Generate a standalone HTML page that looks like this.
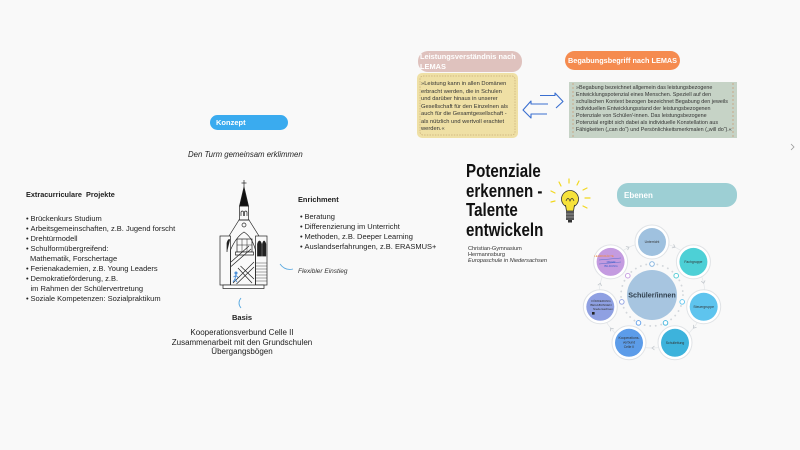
<!DOCTYPE html>
<html><head><meta charset="utf-8">
<style>
body{margin:0;width:800px;height:450px;background:#f9f9f9;position:relative;overflow:hidden;font-family:"Liberation Sans",sans-serif;color:#222}
.a{position:absolute;white-space:nowrap}
.b{display:inline-block;width:4.5px}
svg{position:absolute;left:0;top:0}
</style></head><body>
<svg width="800" height="450" viewBox="0 0 800 450">
  <!-- pills & boxes -->
  <rect x="418" y="51" width="104" height="21" rx="10" fill="#dfc2be"/>
  <rect x="417" y="73" width="101" height="65" rx="5" fill="#efe0a5"/>
  <rect x="420" y="76" width="95" height="59" rx="3" fill="none" stroke="#c8ad78" stroke-width="0.7" stroke-dasharray="1.5 1.2"/>
  <rect x="565" y="51" width="115" height="19" rx="9.5" fill="#f58b4f"/>
  <rect x="569" y="82" width="168" height="56" fill="#c6d3c6"/>
  <line x1="573" y1="83" x2="573" y2="137" stroke="#c9a07a" stroke-width="0.8" stroke-dasharray="2 2"/>
  <line x1="733" y1="83" x2="733" y2="137" stroke="#c9a07a" stroke-width="0.8" stroke-dasharray="2 2"/>
  <rect x="210" y="115" width="78" height="15" rx="7.5" fill="#3aabef"/>
  <rect x="617" y="183" width="120" height="24" rx="11" fill="#9dcfd4"/>
  <!-- double arrow -->
  <g fill="none" stroke="#3a6fd0" stroke-width="1.1" stroke-linejoin="round">
    <path d="M540 95.5 H555 V93 L563 101.5 L556 108"/>
    <path d="M548 104 H531 V101 L523 110 L531 118 V114 H547"/>
  </g>
  <!-- right chevron -->
  <polyline points="791,144 794,147 791,150" fill="none" stroke="#999" stroke-width="0.8"/>
  <!-- blue curves -->
  <path d="M280 264 Q285 271 293 269" fill="none" stroke="#5aa9e0" stroke-width="0.9"/>
  <path d="M241 298 Q237 303 241 308" fill="none" stroke="#5aa9e0" stroke-width="0.9"/>
  <!-- church -->
  <g stroke="#222" stroke-width="0.7" fill="none">
    <line x1="244" y1="180" x2="244" y2="188"/>
    <line x1="241.5" y1="183" x2="246.5" y2="183"/>
    <polygon points="244,187 239.5,206 248.5,206" fill="#111"/>
    <rect x="239.5" y="206" width="9" height="14"/>
    <path d="M241 216 v-4 q1.3-2 2.6 0 v4 M244.4 216 v-4 q1.3-2 2.6 0 v4"/>
    <line x1="238.5" y1="220" x2="249.5" y2="220"/>
    <circle cx="244" cy="225" r="2"/>
    <path d="M239 220 L229 236 M249 220 L259 236"/>
    <rect x="220" y="236" width="10.5" height="49"/>
    <path d="M227 252 V243 Q228.5 238 230 240" fill="#222"/>
    <rect x="255.5" y="236" width="11.5" height="49"/>
    <path d="M257.5 256 V244 Q259.5 238 261.5 244 V256 Z M262.5 256 V244 Q264 238 265.8 244 V256 Z" fill="#222"/>
    <path d="M255.5 263 H267 M255.5 266 H267 M255.5 269 H267 M255.5 272 H267 M255.5 275 H267 M255.5 278 H267 M255.5 281 H267" stroke-width="0.4"/>
    <path d="M230.5 285 V250 Q236 237 244 232 Q252 237 255.5 250 V285"/>
    <rect x="237" y="239" width="15" height="13"/>
    <path d="M242 239 V252 M247 239 V252 M237 245 H252" stroke-width="0.5"/>
    <path d="M235.5 252 H253.5 V255 H235.5 Z" fill="#fff"/>
    <path d="M231 262 L249 246 M231 266.5 L251 249"/>
    <path d="M233 283 L254 262 M236.5 284 L254 267"/>
    <path d="M238 268 L252 283 M240.5 266 L254 279"/>
    <rect x="223" y="285" width="41" height="3.5" fill="#fff"/>
  </g>
  <g stroke="#4b8fd8" stroke-width="0.9" fill="none">
    <circle cx="236" cy="273" r="1.1" fill="#4b8fd8"/>
    <path d="M236 274.5 L235 279 L233 282 M235 279 L237 282 M233.5 277 L236 275.5 L238 277.5"/>
  </g>
  <!-- lightbulb -->
  <g stroke="#f2d81f" stroke-width="1.2" stroke-linecap="round">
    <line x1="555" y1="193" x2="551" y2="191"/>
    <line x1="561" y1="186" x2="559" y2="182"/>
    <line x1="569" y1="183" x2="569" y2="179"/>
    <line x1="577" y1="185" x2="579" y2="181"/>
    <line x1="583" y1="190" x2="587" y2="188"/>
    <line x1="585" y1="198" x2="590" y2="198"/>
    <line x1="583" y1="206" x2="587" y2="208"/>
    <line x1="555" y1="201" x2="551" y2="202"/>
  </g>
  <circle cx="570" cy="199" r="8.5" fill="#f6e23b" stroke="#333" stroke-width="0.8"/>
  <path d="M566 201 q2 -5 4 0 q2 -5 4 0" fill="none" stroke="#333" stroke-width="0.7"/>
  <path d="M565.5 205 L566.5 211 H573.5 L574.5 205" fill="#f6e23b" stroke="#333" stroke-width="0.8"/>
  <rect x="566" y="211" width="8" height="9" fill="#555"/>
  <path d="M566 214 H574 M566 217 H574" stroke="#ccc" stroke-width="0.6"/>
  <rect x="568" y="220" width="4" height="2.5" fill="#333"/>
  <!-- diagram -->
  <circle cx="652" cy="295" r="53" fill="none" stroke="#e3e6e9" stroke-width="0.7"/>
  <circle cx="652" cy="295" r="31" fill="none" stroke="#d3d7db" stroke-width="1.8" stroke-linecap="round" stroke-dasharray="0.1 5.5"/>
  <circle cx="652" cy="295" r="25" fill="#a7c5e0"/>
  <g fill="none" stroke="#c3c8cd" stroke-width="0.8">
    <path d="M673.6 244.3 L675 247.2 L671.9 247.9"/>
    <path d="M705.1 280.4 L703.7 283.2 L701.2 281.2"/>
    <path d="M696.5 327.4 L693.4 328.1 L693.4 324.9"/>
    <path d="M654.5 350 L652 348 L654.5 346"/>
    <path d="M610.6 331.3 L610.6 328.1 L613.8 328.9"/>
    <path d="M597.8 285.2 L600.3 283.2 L601.6 286"/>
    <path d="M625.9 246.5 L629 247.2 L627.6 250.1"/>
  </g>
  <g stroke-width="0.9" fill="#fff">
    <circle cx="652" cy="264" r="2.3" stroke="#7fb0de"/>
    <circle cx="676.2" cy="275.7" r="2.3" stroke="#4dc9d3"/>
    <circle cx="682.2" cy="301.9" r="2.3" stroke="#5ec4ee"/>
    <circle cx="665.5" cy="322.9" r="2.3" stroke="#3db3dc"/>
    <circle cx="638.5" cy="322.9" r="2.3" stroke="#5c9ce9"/>
    <circle cx="621.8" cy="301.9" r="2.3" stroke="#8fa0e2"/>
    <circle cx="627.8" cy="275.7" r="2.3" stroke="#c49be0"/>
  </g>
  <g fill="#fff" stroke="#e0e3e6" stroke-width="1">
    <circle cx="652" cy="242" r="17"/>
    <circle cx="693.4" cy="261.9" r="17"/>
    <circle cx="703.7" cy="306.8" r="17"/>
    <circle cx="675" cy="342.8" r="17"/>
    <circle cx="629" cy="342.8" r="17"/>
    <circle cx="600.3" cy="306.8" r="17"/>
    <circle cx="610.6" cy="261.9" r="17"/>
  </g>
  <circle cx="652" cy="242" r="14" fill="#9fc1df"/>
  <circle cx="693.4" cy="261.9" r="14" fill="#4dd0d6"/>
  <circle cx="703.7" cy="306.8" r="14" fill="#5ec4ee"/>
  <circle cx="675" cy="342.8" r="14" fill="#3db3dc"/>
  <circle cx="629" cy="342.8" r="14" fill="#5c9ce9"/>
  <circle cx="600.3" cy="306.8" r="14" fill="#8fa0e2"/>
  <circle cx="610.6" cy="261.9" r="14" fill="#c49be0"/>
  <g font-family="Liberation Sans, sans-serif" font-size="3.4" fill="#333" text-anchor="middle">
    <text x="652" y="243.2">Unterricht</text>
    <text x="693.4" y="263.1">Fachgruppe</text>
    <text x="703.7" y="308">Steuergruppe</text>
    <text x="675" y="344">Schulleitung</text>
    <text x="629" y="339">Kooperations-</text>
    <text x="629" y="343.5">verbund</text>
    <text x="629" y="348">Celle II</text>
    <text x="601" y="302" font-size="3">FÖRDERUNG</text>
    <text x="601" y="306" font-size="3">BEGABUNGEN</text>
    <text x="603" y="310" font-size="3">Niedersachsen</text>
    <text x="604" y="257" font-size="3" fill="#f08a3c">LEHRKRÄFTE</text>
    <text x="611" y="263" font-size="3" fill="#3a5fc8">MEHR</text>
    <text x="611" y="267" font-size="3" fill="#3a5fc8">BILDUNG</text>
    <text x="652" y="297.5" font-size="7.2" font-weight="bold" fill="#2f3e4c">Schüler/innen</text>
  </g>
  <rect x="592" y="312" width="2.6" height="2.6" fill="#222"/>
  <path d="M599 260 L621 258 M599 264 L621 262" stroke="#3a5fc8" stroke-width="0.4"/>
</svg>

<!-- top texts -->
<div class="a" style="left:420px;top:51.5px;font-weight:bold;font-size:7.4px;line-height:10px;color:#fff">Leistungsverständnis nach<br>LEMAS</div>
<div class="a" style="left:421px;top:81.2px;font-size:5.75px;line-height:7.5px;color:#333">»Leistung kann in allen Domänen<br>erbracht werden, die in Schulen<br>und darüber hinaus in unserer<br>Gesellschaft für den Einzelnen als<br>auch für die Gesamtgesellschaft -<br>als nützlich und wertvoll erachtet<br>werden.«</div>
<div class="a" style="left:568px;top:56px;font-weight:bold;font-size:7.3px;line-height:10px;color:#fff">Begabungsbegriff nach LEMAS</div>
<div class="a" style="left:576px;top:84.7px;font-size:5.4px;line-height:7.1px;color:#333">»Begabung bezeichnet allgemein das leistungsbezogene<br>Entwicklungspotenzial eines Menschen. Speziell auf den<br>schulischen Kontext bezogen bezeichnet Begabung den jeweils<br>individuellen Entwicklungsstand der leistungsbezogenen<br>Potenziale von Schüler/-innen. Das leistungsbezogene<br>Potenzial ergibt sich dabei als individuelle Konstellation aus<br>Fähigkeiten („can do“) und Persönlichkeitsmerkmalen („will do“).«</div>

<div class="a" style="left:216px;top:117.5px;font-weight:bold;font-size:7.5px;line-height:10px;color:#fff">Konzept</div>
<div class="a" style="left:188px;top:150px;font-style:italic;font-size:7.8px;line-height:10px">Den Turm gemeinsam erklimmen</div>

<!-- left column -->
<div class="a" style="left:26px;top:190px;font-weight:bold;font-size:7.3px;line-height:10px">Extracurriculare&nbsp; Projekte</div>
<div class="a" style="left:26px;top:214px;font-size:7.5px;line-height:10px">
<div><span class="b">•</span>Brückenkurs Studium</div>
<div><span class="b">•</span>Arbeitsgemeinschaften, z.B. Jugend forscht</div>
<div><span class="b">•</span>Drehtürmodell</div>
<div><span class="b">•</span>Schulformübergreifend:</div>
<div style="padding-left:4px">Mathematik, Forschertage</div>
<div><span class="b">•</span>Ferienakademien, z.B. Young Leaders</div>
<div><span class="b">•</span>Demokratieförderung, z.B.</div>
<div style="padding-left:4.5px">im Rahmen der Schülervertretung</div>
<div><span class="b">•</span>Soziale Kompetenzen: Sozialpraktikum</div>
</div>

<!-- enrichment -->
<div class="a" style="left:298px;top:195px;font-weight:bold;font-size:7.4px;line-height:10px">Enrichment</div>
<div class="a" style="left:300px;top:212px;font-size:7.5px;line-height:10px">
<div><span class="b">•</span>Beratung</div>
<div><span class="b">•</span>Differenzierung im Unterricht</div>
<div><span class="b">•</span>Methoden, z.B. Deeper Learning</div>
<div><span class="b">•</span>Auslandserfahrungen, z.B. ERASMUS+</div>
</div>
<div class="a" style="left:298px;top:266.5px;font-style:italic;font-size:6.5px;line-height:9px;color:#333">Flexibler Einstieg</div>

<!-- basis -->
<div class="a" style="left:142px;top:313px;width:200px;text-align:center;font-weight:bold;font-size:7.5px;line-height:10px">Basis</div>
<div class="a" style="left:142px;top:328.3px;width:200px;text-align:center;font-size:8px;line-height:9.5px">Kooperationsverbund Celle II<br>Zusammenarbeit mit den Grundschulen<br>Übergangsbögen</div>

<!-- title -->
<div class="a" style="left:466px;top:162px;font-weight:bold;font-size:18px;line-height:19.7px;color:#111;transform:scaleX(0.84);transform-origin:0 0">Potenziale<br>erkennen -<br>Talente<br>entwickeln</div>
<div class="a" style="left:468px;top:246px;font-size:5.6px;line-height:6px;color:#333">Christian-Gymnasium<br>Hermannsburg<br><i>Europaschule in Niedersachsen</i></div>

<div class="a" style="left:624px;top:190.5px;font-weight:bold;font-size:8px;line-height:10px;color:#fff">Ebenen</div>
</body></html>
